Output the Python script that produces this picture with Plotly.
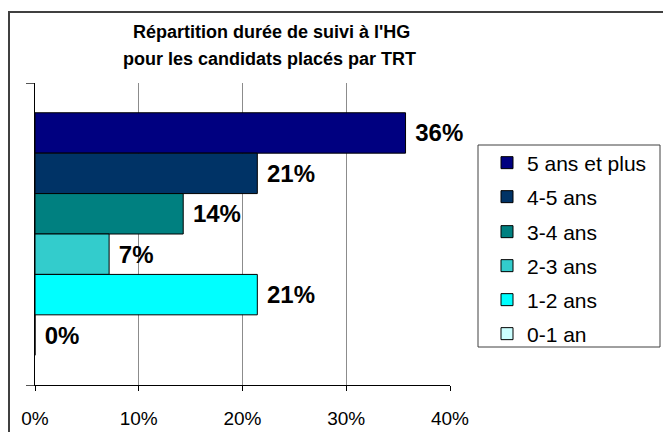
import plotly.graph_objects as go

# Data (top to bottom as in the chart)
series_names = ["5 ans et plus", "4-5 ans", "3-4 ans", "2-3 ans", "1-2 ans", "0-1 an"]
series_values = [5/14, 3/14, 2/14, 1/14, 3/14, 0/14]
series_colors = ["#000080", "#003366", "#008080", "#33CCCC", "#00FFFF", "#CCFFFF"]
category = ["Durée"]
x_ticks = [0, 0.1, 0.2, 0.3, 0.4]
title_lines = ["Répartition durée de suivi à l'HG", "pour les candidats placés par TRT"]

W, H = 663, 432
L, R, T, B = 35, 450, 83, 385
FONT = "Liberation Sans, Arial, sans-serif"


def px(xp):
    return (xp - L) / (R - L)


def py(yp):
    return (B - yp) / (B - T)


legend_rows_px = [163, 197, 232, 266, 300, 334]
legend_ids = ["legend", "legend2", "legend3", "legend4", "legend5", "legend6"]

fig = go.Figure()
for name, val, col, lid in zip(series_names, series_values, series_colors, legend_ids):
    fig.add_trace(go.Bar(
        y=category, x=[val], name=name, orientation="h",
        marker=dict(color=col, line=dict(color="black", width=1)),
        texttemplate="\u00a0%{x:.0%}", textposition="outside",
        textfont=dict(family=FONT, size=24, color="black", weight="bold"),
        constraintext="none", cliponaxis=False,
        legend=lid,
    ))

legend_layout = {}
for lid, ypx in zip(legend_ids, legend_rows_px):
    legend_layout[lid] = dict(
        x=px(487), xanchor="left", y=py(ypx), yanchor="middle",
        font=dict(family=FONT, size=21, color="black"),
        bgcolor="rgba(0,0,0,0)", borderwidth=0,
    )

fig.update_layout(
    width=W, height=H,
    margin=dict(l=L, r=W - R, t=T, b=H - B, pad=0, autoexpand=False),
    paper_bgcolor="white", plot_bgcolor="white",
    barmode="group", bargap=0.197, bargroupgap=0,
    font=dict(family=FONT, color="black"),
    showlegend=True,
    xaxis=dict(
        range=[0, 0.4], tickvals=x_ticks, tickformat=".0%",
        showgrid=True, gridcolor="#8c8c8c", gridwidth=1,
        showline=True, linecolor="black", linewidth=1,
        ticks="outside", ticklen=5, tickcolor="black",
        ticklabelstandoff=11, automargin=False,
        tickfont=dict(family=FONT, size=19, color="black"),
        zeroline=False, fixedrange=True,
    ),
    yaxis=dict(
        type="category", tickson="boundaries", autorange="reversed",
        showticklabels=False, ticks="outside", ticklen=8, tickcolor="#555555",
        showgrid=True, gridcolor="#8c8c8c", gridwidth=1,
        showline=True, linecolor="black", linewidth=1, automargin=False,
        zeroline=False, fixedrange=True,
    ),
    annotations=[
        dict(text="<b>%s</b>" % title_lines[0], x=px(271), y=py(32), xref="paper", yref="paper",
             xanchor="center", yanchor="middle", showarrow=False,
             font=dict(family=FONT, size=18, color="black")),
        dict(text="<b>%s</b>" % title_lines[1], x=px(269), y=py(59), xref="paper", yref="paper",
             xanchor="center", yanchor="middle", showarrow=False,
             font=dict(family=FONT, size=18, color="black")),
    ],
    shapes=[
        # outer chart border (only top and left edges fall inside the picture)
        dict(type="rect", xref="paper", yref="paper", x0=px(9), x1=px(680), y0=py(12), y1=py(450),
             line=dict(color="#404040", width=2), fillcolor="rgba(0,0,0,0)", layer="above"),
        # legend box
        dict(type="rect", xref="paper", yref="paper", x0=px(478), x1=px(660), y0=py(145), y1=py(347),
             line=dict(color="#404040", width=1), fillcolor="rgba(0,0,0,0)"),
    ],
    **legend_layout,
)

fig.write_html(
    "out.html",
    config={"displayModeBar": False},
    post_script="document.body.style.margin='0';document.body.style.padding='0';",
)
